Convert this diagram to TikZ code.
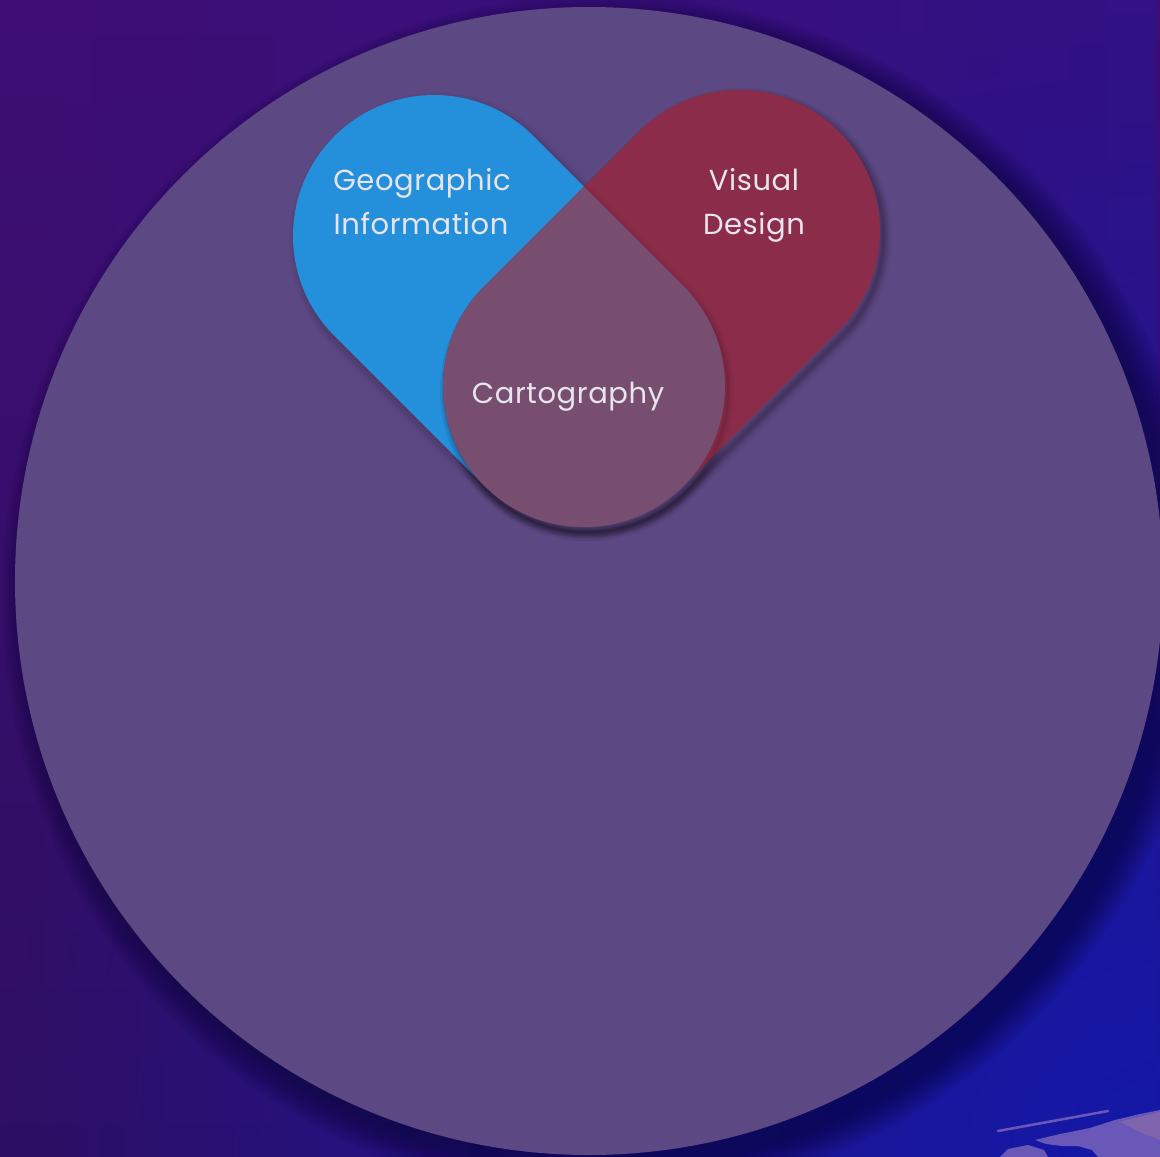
\documentclass[tikz,border=0pt]{standalone}
\usepackage{fontspec}
\setmainfont{Poppins}[LetterSpace=2.0]
\usetikzlibrary{fadings}
\definecolor{bgtop}{HTML}{3F0E74}
\definecolor{bgbot}{HTML}{2E0F62}
\definecolor{bgright}{HTML}{2A1590}
\definecolor{glowblue}{HTML}{1418A8}
\definecolor{circfill}{HTML}{5C4882}
\definecolor{geoblue}{HTML}{2490DC}
\definecolor{visred}{HTML}{8B2C4A}
\definecolor{cartfill}{HTML}{774E70}
\definecolor{txtc}{HTML}{E8E4EC}
\definecolor{mapcol}{HTML}{6A58B8}
\definecolor{mappink}{HTML}{8A6AA8}
\definecolor{shadowc}{HTML}{0A0830}
\tikzfading[name=fadeleftright, left color=transparent!100, right color=transparent!0]
\tikzfading[name=glowfade, inner color=transparent!0, outer color=transparent!100]
\tikzset{
  lbl/.style={text=txtc, font=\fontsize{29}{35}\selectfont, inner sep=0pt, anchor=base},
  softshadow/.style={draw=black, line join=round},
}
\def\blueP{(434,236) ++(135:141) arc[start angle=135,end angle=315,radius=141] -- (683.7,286.3) arc[start angle=-45,end angle=135,radius=141] -- cycle}
\def\redP{(739,231) ++(225:141) arc[start angle=225,end angle=405,radius=141] -- (683.7,485.7) arc[start angle=45,end angle=225,radius=141] -- cycle}
\def\cartP{(584,186.6) -- (683.7,286.3) arc[start angle=-45,end angle=225,radius=141] -- cycle}
\begin{document}
\begin{tikzpicture}[x=1pt,y=-1pt]
\useasboundingbox (0,0) rectangle (1160,1157);
\clip (0,0) rectangle (1160,1157);
% background
\shade[top color=bgtop, bottom color=bgbot] (0,0) rectangle (1160,1157);
\fill[bgright, path fading=fadeleftright, opacity=0.6] (0,0) rectangle (1160,1157);
\fill[glowblue, path fading=glowfade] (1160,1157) circle (1150);
% map fragment bottom right
\draw[mapcol, line width=2.5pt, line cap=round] (998,1131) -- (1108,1111);
\fill[mapcol] (1035,1140) -- (1060,1134) -- (1090,1128) -- (1115,1120) -- (1140,1114) -- (1160,1110) -- (1160,1157) -- (1098,1157) -- (1092,1150) -- (1078,1146) -- (1062,1146) -- (1046,1144) -- cycle;
\fill[mappink, opacity=0.7] (1120,1122) -- (1160,1112) -- (1160,1140) -- (1140,1132) -- cycle;
\fill[mapcol] (1000,1157) -- (1008,1149) -- (1028,1145) -- (1044,1150) -- (1048,1157) -- cycle;
% big circle shadow (soft, towards bottom right)
\foreach \w in {1,3,5,7,9,11,13,15,17,19,21,23,25,27,29,31}{
  \fill[shadowc, opacity=0.045] (604,597) circle ({572+\w});
}
\fill[circfill] (589,581) circle (574);
% shadows of blue and red
\begin{scope}[shift={(4,6)}]
\foreach \w in {16,11,7,3}{
  \path[softshadow, line width=\w, opacity=0.035] \blueP;
  \path[softshadow, line width=\w, opacity=0.035] \redP;
}
\end{scope}
\fill[geoblue] \blueP;
\begin{scope}[shift={(3,5)}]
\foreach \w in {12,8,4,2}{
  \path[softshadow, line width=\w, opacity=0.035] \redP;
}
\end{scope}
\fill[visred] \redP;
\begin{scope}[shift={(3,5)}]
\foreach \w in {12,8,4,2}{
  \path[softshadow, line width=\w, opacity=0.035] \cartP;
}
\end{scope}
\fill[cartfill] \cartP;
% labels
\node[lbl] (geo1) at (422,190) {Geographic};
\node[lbl] (geo2) at (421,234) {Information};
\node[lbl] (vis1) at (754,190) {Visual};
\node[lbl] (vis2) at (754,234) {Design};
\node[lbl] (cart) at (568,403) {Cartography};
\end{tikzpicture}
\end{document}
